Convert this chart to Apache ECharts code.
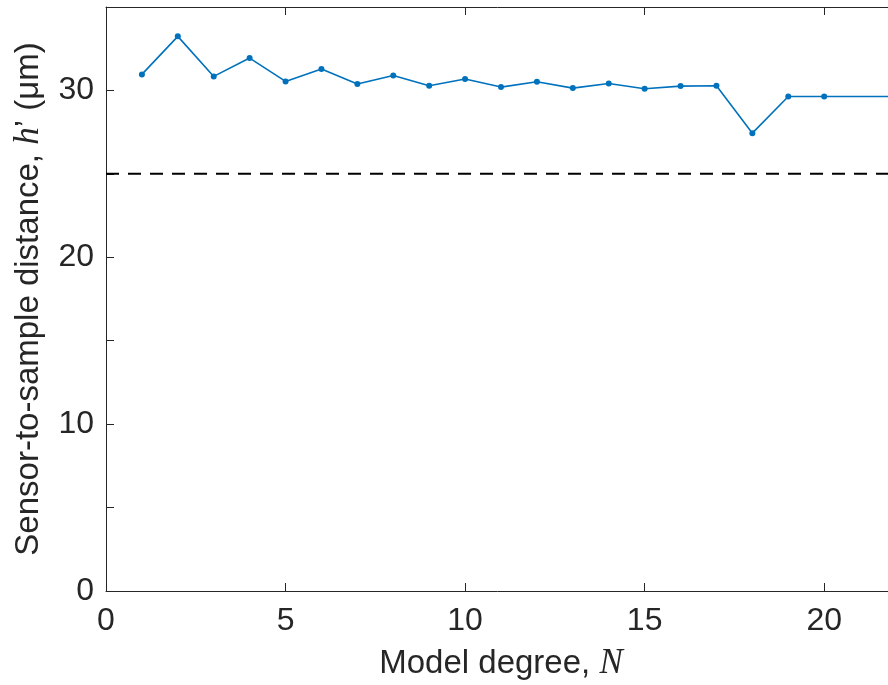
<!DOCTYPE html>
<html>
<head>
<meta charset="utf-8">
<script src="https://cdn.jsdelivr.net/npm/echarts@6/dist/echarts.min.js"></script>
<style>
  html, body { margin: 0; padding: 0; background: #fff; }
  #chart { width: 888px; height: 685px; }
</style>
</head>
<body>
<div id="chart"></div>
<script>
// Model degree N and the fitted sensor-to-sample distance h' (µm)
const degrees = [1, 2, 3, 4, 5, 6, 7, 8, 9, 10, 11, 12, 13, 14, 15, 16, 17, 18, 19, 20, 22];
const distances = [30.96, 33.24, 30.84, 31.94, 30.54, 31.28, 30.38, 30.90, 30.28, 30.68,
                   30.20, 30.52, 30.14, 30.42, 30.10, 30.26, 30.28, 27.44, 29.64, 29.64, 29.64];
// Nominal distance drawn as a dashed reference line
const nominalDistance = 25;
const xRange = [0, 22];
const yRange = [0, 35];

const axisColor = '#262626';
const sansFont = '"Liberation Sans", Arial, Helvetica, sans-serif';
const serifFont = '"Liberation Serif", "Times New Roman", serif';
const tickFontSize = 32;
const titleFontSize = 33;

const chart = echarts.init(document.getElementById('chart'), null, { renderer: 'canvas' });

// Shared settings for the four sides of the axes box (ticks pointing inward)
const boxAxisX = {
  type: 'value',
  min: xRange[0], max: xRange[1], interval: 5,
  axisLine: { show: true, onZero: false, lineStyle: { color: axisColor, width: 1 } },
  axisTick: { show: true, inside: true, length: 8, lineStyle: { color: axisColor, width: 1 } },
  splitLine: { show: false }
};
const boxAxisY = {
  type: 'value',
  min: yRange[0], max: yRange[1], interval: 5,
  axisLine: { show: true, onZero: false, lineStyle: { color: axisColor, width: 1 } },
  axisTick: { show: true, inside: true, length: 8, lineStyle: { color: axisColor, width: 1 } },
  splitLine: { show: false }
};

chart.setOption({
  animation: false,
  backgroundColor: '#ffffff',
  grid: { left: 106, top: 7, width: 790, height: 584, outerBoundsMode: 'none', containLabel: false },
  xAxis: [
    Object.assign({}, boxAxisX, {
      position: 'bottom',
      axisLabel: {
        show: true, margin: 14, color: axisColor, fontFamily: sansFont, fontSize: tickFontSize,
        showMaxLabel: false,
        formatter: v => (v % 5 === 0 ? String(v) : '')
      },
      name: '{a|Model degree, }{b|N}',
      nameLocation: 'middle',
      nameGap: 55,
      nameTextStyle: {
        rich: {
          a: { fontFamily: sansFont, fontSize: titleFontSize, color: axisColor },
          b: { fontFamily: serifFont, fontStyle: 'italic', fontSize: titleFontSize + 2, color: axisColor }
        }
      }
    }),
    Object.assign({}, boxAxisX, {
      position: 'top', axisLabel: { show: false }
    })
  ],
  yAxis: [
    Object.assign({}, boxAxisY, {
      position: 'left',
      axisLabel: {
        show: true, margin: 12, color: axisColor, fontFamily: sansFont, fontSize: tickFontSize,
        formatter: v => (v % 10 === 0 ? String(v) : '')
      },
      name: '{a|Sensor-to-sample distance, }{b|h}{a|’ (μm)}',
      nameLocation: 'middle',
      nameRotate: 90,
      nameGap: 60,
      nameTextStyle: {
        rich: {
          a: { fontFamily: sansFont, fontSize: titleFontSize, color: axisColor },
          b: { fontFamily: serifFont, fontStyle: 'italic', fontSize: titleFontSize + 2, color: axisColor }
        }
      }
    }),
    Object.assign({}, boxAxisY, {
      position: 'right', axisLabel: { show: false }
    })
  ],
  series: [
    {
      type: 'line',
      xAxisIndex: 0, yAxisIndex: 0,
      data: [[xRange[0], nominalDistance], [xRange[1], nominalDistance]],
      symbol: 'none',
      lineStyle: { color: '#000000', width: 2, type: [13, 9] },
      silent: true,
      z: 2
    },
    {
      type: 'line',
      xAxisIndex: 0, yAxisIndex: 0,
      data: degrees.map((d, i) => [d, distances[i]]),
      symbol: 'circle',
      symbolSize: 6,
      showAllSymbol: true,
      clip: true,
      itemStyle: { color: '#0072BD' },
      lineStyle: { color: '#0072BD', width: 1.6 },
      z: 3
    }
  ]
});
</script>
</body>
</html>
